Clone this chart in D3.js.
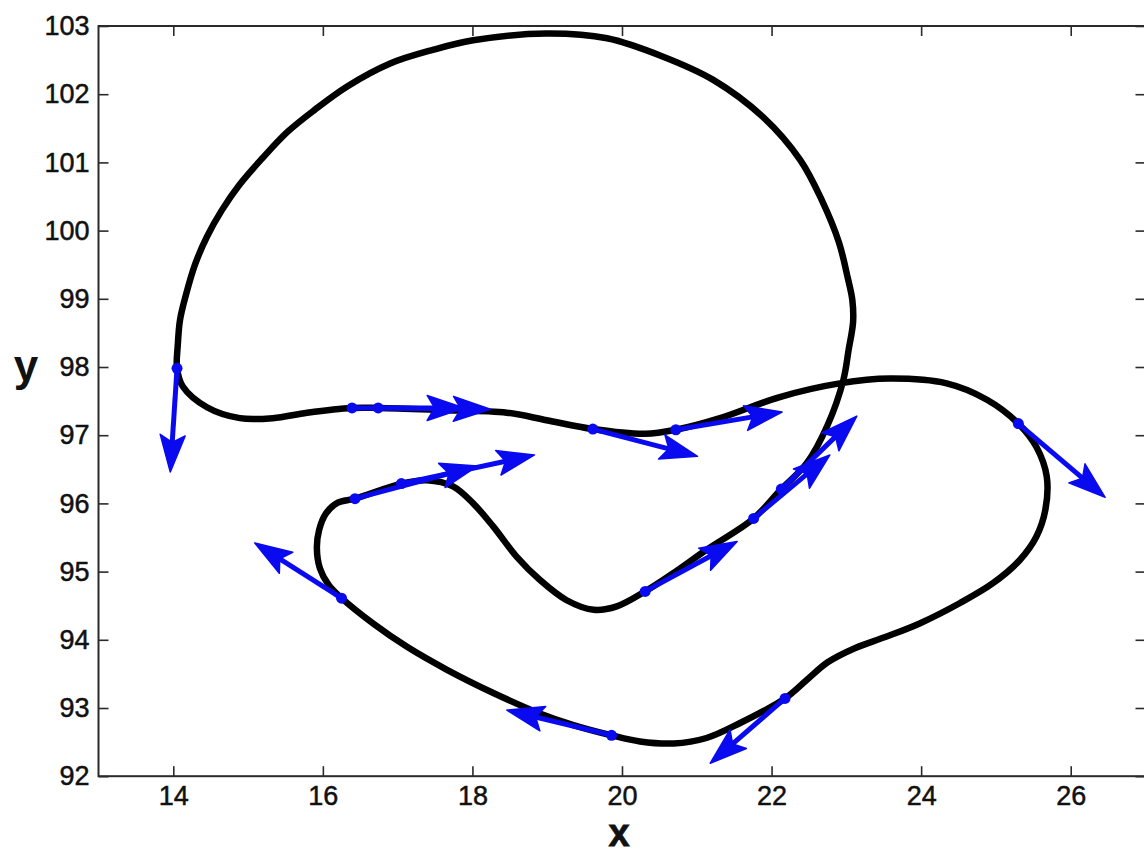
<!DOCTYPE html>
<html>
<head>
<meta charset="utf-8">
<script src="https://cdn.jsdelivr.net/npm/d3@7"></script>
<style>
  body { margin: 0; background: #ffffff; }
  svg text { font-family: "Liberation Sans", Arial, Helvetica, sans-serif; fill: #111; }
</style>
</head>
<body>
<svg id="chart" width="1144" height="854"></svg>
<script>
// Axis ticks
const xTicks = [14, 16, 18, 20, 22, 24, 26];
const yTicks = [92, 93, 94, 95, 96, 97, 98, 99, 100, 101, 102, 103];

// Closed trajectory (x, y), traced in order around the loop
const pathX = [14.05, 14.06, 14.09, 14.17, 14.29, 14.45, 14.65, 14.89, 15.19, 15.53, 15.89, 16.32, 16.90, 17.47, 18.01,
  18.99, 19.80, 20.55, 21.22, 21.88, 22.38, 22.67, 22.90, 23.02, 23.08, 23.09, 23.03, 22.96, 22.75, 22.47, 22.13, 21.76,
  21.13, 20.69, 20.31, 19.93, 19.62, 19.26, 18.90, 18.59, 18.28, 18.01, 17.74, 17.39, 17.05, 16.43, 16.20,
  16.04, 15.95, 15.92, 15.96, 16.08, 16.25, 16.67, 17.12, 17.66, 18.28, 18.90, 19.35, 19.86, 20.24, 20.69, 21.13,
  21.58, 22.18, 22.47, 22.75, 23.12, 23.52, 23.98, 24.52, 24.96, 25.32, 25.54, 25.66, 25.68, 25.54, 25.30, 24.88,
  24.34, 23.58, 22.91, 22.11, 21.31, 20.72, 20.31, 19.61, 18.99, 18.46, 17.57, 16.74, 16.39, 15.79, 15.33,
  14.89, 14.45, 14.13];
const pathY = [97.98, 98.32, 98.69, 99.06, 99.50, 99.91, 100.30, 100.68, 101.06, 101.45, 101.77, 102.11, 102.45, 102.65, 102.79,
  102.89, 102.82, 102.55, 102.21, 101.67, 101.04, 100.45, 99.83, 99.30, 98.98, 98.66, 98.25, 97.81, 97.15, 96.59, 96.21, 95.78,
  95.32, 94.98, 94.71, 94.49, 94.44, 94.58, 94.88, 95.22, 95.66, 96.00, 96.25, 96.34, 96.29, 96.07, 96.01,
  95.85, 95.61, 95.35, 95.05, 94.80, 94.61, 94.24, 93.90, 93.56, 93.22, 92.92, 92.75, 92.60, 92.51, 92.48, 92.56,
  92.78, 93.14, 93.41, 93.67, 93.88, 94.04, 94.24, 94.54, 94.83, 95.17, 95.51, 95.90, 96.39, 96.83, 97.17, 97.52,
  97.76, 97.83, 97.76, 97.56, 97.25, 97.08, 97.02, 97.09, 97.22, 97.33, 97.37, 97.40, 97.40, 97.33, 97.25,
  97.25, 97.41, 97.71];

// Sample points on the trajectory and their direction vectors (u, v)
const arrowX = [14.05, 16.39, 16.74, 16.43, 17.05, 19.61, 20.72, 21.76, 22.13, 20.31, 25.30, 22.18, 19.86, 16.25];
const arrowY = [97.98, 97.40, 97.40, 96.07, 96.29, 97.09, 97.08, 95.78, 96.21, 94.71, 97.17, 93.14, 92.60, 94.61];
const arrowU = [-0.09, 1.50, 1.50, 1.64, 1.78, 1.40, 1.42, 1.02, 1.01, 1.23, 1.16, -1.00, -1.40, -1.16];
const arrowV = [-1.52, 0.00, -0.02, 0.48, 0.42, -0.40, 0.26, 0.93, 1.07, 0.73, -1.08, -0.95, 0.37, 0.81];

const svg = d3.select("#chart");
const x = d3.scaleLinear().domain([13, 27]).range([98.5, 1145.5]);
const y = d3.scaleLinear().domain([92, 103]).range([776.2, 26]);

const axisColor = "#2a2a2a";
const tickFont = 27;

// Axes: ticks point inward, labels on bottom and left only
const gx = svg.append("g").attr("transform", `translate(0,${y(92)})`)
  .call(d3.axisBottom(x).tickValues(xTicks).tickSize(-10).tickPadding(10).tickFormat(d3.format("d")));
const gy = svg.append("g").attr("transform", `translate(${x(13)},0)`)
  .call(d3.axisLeft(y).tickValues(yTicks).tickSize(-10).tickPadding(9).tickFormat(d3.format("d")));
const gt = svg.append("g").attr("transform", `translate(0,${y(103)})`)
  .call(d3.axisTop(x).tickValues(xTicks).tickSize(-10).tickFormat(""));
const gr = svg.append("g").attr("transform", `translate(${x(27)},0)`)
  .call(d3.axisRight(y).tickValues(yTicks).tickSize(-10).tickFormat(""));

[gx, gy, gt, gr].forEach(g => {
  g.select(".domain").remove();
  g.selectAll(".tick line").attr("stroke", axisColor).attr("stroke-width", 1.6);
  g.selectAll(".tick text").attr("font-size", tickFont).attr("fill", "#111")
    .attr("stroke", "#111").attr("stroke-width", 0.5)
    .style("font-family", '"Liberation Sans", Arial, sans-serif');
});

// Axes box
svg.append("rect")
  .attr("x", x(13)).attr("y", y(103))
  .attr("width", x(27) - x(13)).attr("height", y(92) - y(103))
  .attr("fill", "none").attr("stroke", axisColor).attr("stroke-width", 2);

// Axis labels
svg.append("text").attr("x", (x(13) + x(27)) / 2 - 3).attr("y", 845.7)
  .attr("text-anchor", "middle").attr("font-size", 38).attr("font-weight", "bold")
  .attr("stroke", "#111").attr("stroke-width", 0.8).text("x");
svg.append("text").attr("x", 26).attr("y", 381)
  .attr("text-anchor", "middle").attr("font-size", 44).attr("font-weight", "bold").text("y");

// Trajectory
const pts = pathX.map((v, i) => [v, pathY[i]]);
const line = d3.line().x(d => x(d[0])).y(d => y(d[1])).curve(d3.curveCatmullRomClosed.alpha(0.5));
svg.append("path").attr("d", line(pts))
  .attr("fill", "none").attr("stroke", "#000").attr("stroke-width", 6.5)
  .attr("stroke-linejoin", "round");

// Direction arrows
const blue = "#0a0af0";
const headLen = 37, headHalf = 12.5;
const arrows = svg.append("g");
arrowX.forEach((ax, i) => {
  const x0 = x(ax), y0 = y(arrowY[i]);
  const x1 = x(ax + arrowU[i]), y1 = y(arrowY[i] + arrowV[i]);
  const len = Math.hypot(x1 - x0, y1 - y0);
  const dx = (x1 - x0) / len, dy = (y1 - y0) / len;
  const nx = -dy, ny = dx;
  const bx = x1 - dx * headLen, by = y1 - dy * headLen;
  const kx = x1 - dx * headLen * 0.8, ky = y1 - dy * headLen * 0.8;
  arrows.append("line")
    .attr("x1", x0).attr("y1", y0).attr("x2", kx).attr("y2", ky)
    .attr("stroke", blue).attr("stroke-width", 5);
  arrows.append("path")
    .attr("d", `M${x1},${y1}L${bx + nx * headHalf},${by + ny * headHalf}L${kx},${ky}L${bx - nx * headHalf},${by - ny * headHalf}Z`)
    .attr("fill", blue).attr("stroke", blue).attr("stroke-width", 1.5).attr("stroke-linejoin", "round");
});

// Sample points
svg.append("g").selectAll("circle")
  .data(arrowX.map((v, i) => [v, arrowY[i]]))
  .join("circle")
  .attr("cx", d => x(d[0])).attr("cy", d => y(d[1])).attr("r", 5.5)
  .attr("fill", blue);
</script>
</body>
</html>
